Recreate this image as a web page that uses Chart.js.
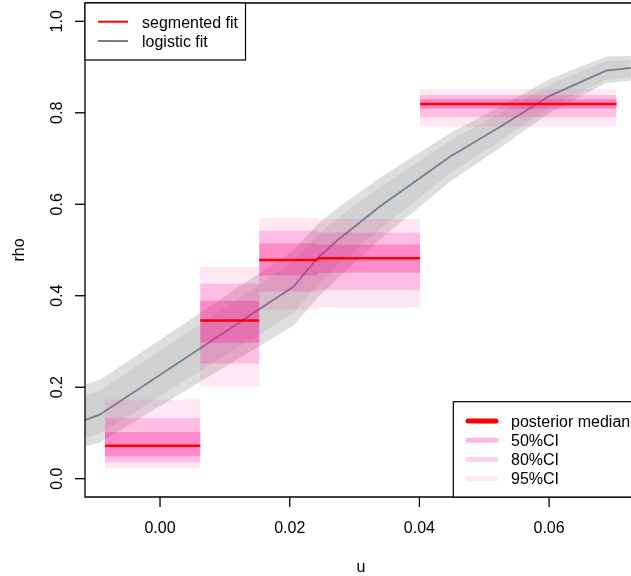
<!DOCTYPE html>
<html>
<head>
<meta charset="utf-8">
<script src="https://cdn.jsdelivr.net/npm/chart.js@4/dist/chart.umd.min.js"></script>
<style>
html,body{margin:0;padding:0;background:#fff;}
canvas{display:block;}
</style>
</head>
<body>
<canvas id="c" width="631" height="576"></canvas>
<script>
// ---- segmented fit (step function) ----
const segBreaks = [-0.0085, 0.0062, 0.0153, 0.0243, 0.0401, 0.0704];
const segMedian = [0.072, 0.346, 0.478, 0.482, 0.819];
const ci50Lo = [0.049, 0.297, 0.444, 0.450, 0.809];
const ci50Hi = [0.102, 0.389, 0.514, 0.512, 0.830];
const ci80Lo = [0.036, 0.252, 0.409, 0.412, 0.790];
const ci80Hi = [0.132, 0.426, 0.542, 0.538, 0.839];
const ci95Lo = [0.023, 0.202, 0.370, 0.375, 0.770];
const ci95Hi = [0.173, 0.463, 0.570, 0.568, 0.852];

// ---- logistic fit ----
const logitU   = [-0.0116, -0.0093, 0.0206, 0.0242, 0.0275, 0.0339, 0.0447, 0.0524, 0.0601, 0.0688, 0.0726];
const logitFit = [0.128, 0.140, 0.420, 0.481, 0.523, 0.595, 0.704, 0.769, 0.837, 0.892, 0.898];
const logit95Hi = [0.206, 0.216, 0.499, 0.555, 0.593, 0.658, 0.755, 0.813, 0.874, 0.923, 0.924];
const logit95Lo = [0.071, 0.079, 0.335, 0.394, 0.440, 0.523, 0.649, 0.723, 0.800, 0.865, 0.870];
const logit80Hi = [0.181, 0.192, 0.473, 0.532, 0.571, 0.638, 0.739, 0.799, 0.862, 0.913, 0.916];
const logit80Lo = [0.089, 0.099, 0.362, 0.422, 0.467, 0.546, 0.667, 0.738, 0.812, 0.873, 0.879];

// ---- axes ----
const xTicks = [0.00, 0.02, 0.04, 0.06];
const xTickLabels = ["0.00", "0.02", "0.04", "0.06"];
const yTicks = [0.0, 0.2, 0.4, 0.6, 0.8, 1.0];
const yTickLabels = ["0.0", "0.2", "0.4", "0.6", "0.8", "1.0"];
const xTitle = "u";
const yTitle = "rho";
const legendTop = ["segmented fit", "logistic fit"];
const legendBottom = ["posterior median", "50%CI", "80%CI", "95%CI"];

const FONT = '16px "Liberation Sans", Arial, Helvetica, sans-serif';
const PINK = a => `rgba(255,20,147,${a})`;
const GRAY = 'rgba(200,200,200,0.6)';
const SLATE = '#708090';

function pts(xs, ys) { return xs.map((x, i) => ({x: x, y: ys[i]})); }
function stepPts(vals) {
  const p = vals.map((v, i) => ({x: segBreaks[i], y: v}));
  p.push({x: segBreaks[segBreaks.length - 1], y: vals[vals.length - 1]});
  return p;
}
function medianPts() {
  const p = [];
  segMedian.forEach((v, i) => {
    if (i > 0) p.push({x: segBreaks[i], y: null});
    p.push({x: segBreaks[i], y: v});
    p.push({x: segBreaks[i + 1], y: v});
  });
  return p;
}

const datasets = [
  {data: medianPts(), borderColor: '#ff0000', borderWidth: 2.5, fill: false, order: 1, spanGaps: false},
  {data: stepPts(ci50Hi), stepped: true, borderWidth: 0, backgroundColor: PINK(0.3), fill: '+1', order: 4},
  {data: stepPts(ci50Lo), stepped: true, borderWidth: 0, fill: false, order: 4},
  {data: stepPts(ci80Hi), stepped: true, borderWidth: 0, backgroundColor: PINK(0.2), fill: '+1', order: 5},
  {data: stepPts(ci80Lo), stepped: true, borderWidth: 0, fill: false, order: 5},
  {data: stepPts(ci95Hi), stepped: true, borderWidth: 0, backgroundColor: PINK(0.1), fill: '+1', order: 6},
  {data: stepPts(ci95Lo), stepped: true, borderWidth: 0, fill: false, order: 6},
  {data: pts(logitU, logitFit), borderColor: SLATE, borderWidth: 1.8, fill: false, order: 7},
  {data: pts(logitU, logit80Hi), borderWidth: 0, backgroundColor: GRAY, fill: '+1', order: 8},
  {data: pts(logitU, logit80Lo), borderWidth: 0, fill: false, order: 8},
  {data: pts(logitU, logit95Hi), borderWidth: 0, backgroundColor: GRAY, fill: '+1', order: 9},
  {data: pts(logitU, logit95Lo), borderWidth: 0, fill: false, order: 9}
];

const decor = {
  id: 'decor',
  afterDraw(chart) {
    const ctx = chart.ctx;
    const a = chart.chartArea;
    const xs = chart.scales.x, ys = chart.scales.y;
    ctx.save();
    ctx.strokeStyle = '#000';
    ctx.fillStyle = '#000';
    ctx.lineWidth = 1.3;
    ctx.beginPath();
    ctx.moveTo(a.right + 10, a.top);
    ctx.lineTo(a.left, a.top);
    ctx.lineTo(a.left, a.bottom);
    ctx.lineTo(a.right + 10, a.bottom);
    ctx.stroke();
    ctx.font = FONT;
    ctx.textAlign = 'center';
    ctx.textBaseline = 'alphabetic';
    xTicks.forEach((t, i) => {
      const px = xs.getPixelForValue(t);
      ctx.beginPath();
      ctx.moveTo(px, a.bottom);
      ctx.lineTo(px, a.bottom + 10);
      ctx.stroke();
      ctx.fillText(xTickLabels[i], px, 532.5);
    });
    yTicks.forEach((t, i) => {
      const py = ys.getPixelForValue(t);
      ctx.beginPath();
      ctx.moveTo(a.left, py);
      ctx.lineTo(a.left - 10, py);
      ctx.stroke();
      ctx.save();
      ctx.translate(61.5, py);
      ctx.rotate(-Math.PI / 2);
      ctx.fillText(yTickLabels[i], 0, 0);
      ctx.restore();
    });
    ctx.fillText(xTitle, 361, 572);
    ctx.save();
    ctx.translate(24, 250);
    ctx.rotate(-Math.PI / 2);
    ctx.fillText(yTitle, 0, 0);
    ctx.restore();

    // top-left legend
    ctx.lineWidth = 1.2;
    ctx.strokeStyle = '#000';
    ctx.fillStyle = '#fff';
    ctx.fillRect(a.left, a.top, 160.5, 57);
    ctx.strokeRect(a.left, a.top, 160.5, 57);
    ctx.textAlign = 'left';
    ctx.fillStyle = '#000';
    const topCols = ['#ff0000', SLATE];
    legendTop.forEach((lab, i) => {
      const y = 21.7 + i * 19.3;
      ctx.strokeStyle = topCols[i];
      ctx.lineWidth = 2;
      ctx.beginPath();
      ctx.moveTo(98, y);
      ctx.lineTo(128, y);
      ctx.stroke();
      ctx.fillText(lab, 142, y + 5.8);
    });

    // bottom-right legend
    ctx.fillStyle = '#fff';
    ctx.fillRect(453.3, 401.7, 200, a.bottom - 401.7);
    ctx.strokeStyle = '#000';
    ctx.lineWidth = 1.2;
    ctx.strokeRect(453.3, 401.7, 200, a.bottom - 401.7);
    const botCols = ['#ff0000', PINK(0.3), PINK(0.2), PINK(0.1)];
    ctx.lineCap = 'round';
    legendBottom.forEach((lab, i) => {
      const y = 421 + i * 19.25;
      ctx.strokeStyle = botCols[i];
      ctx.lineWidth = 5;
      ctx.beginPath();
      ctx.moveTo(468, y);
      ctx.lineTo(496, y);
      ctx.stroke();
      ctx.fillStyle = '#000';
      ctx.fillText(lab, 511, y + 5.7);
    });
    ctx.restore();
  }
};

new Chart(document.getElementById('c'), {
  type: 'line',
  data: {datasets: datasets},
  options: {
    responsive: false,
    animation: false,
    layout: {padding: {left: 85, top: 3, right: 0, bottom: 79}},
    elements: {point: {radius: 0, hoverRadius: 0}, line: {tension: 0}},
    scales: {
      x: {type: 'linear', display: false, min: -0.01157, max: 0.07263},
      y: {type: 'linear', display: false, min: -0.04, max: 1.04}
    },
    plugins: {legend: {display: false}, tooltip: {enabled: false}}
  },
  plugins: [decor]
});
</script>
</body>
</html>
